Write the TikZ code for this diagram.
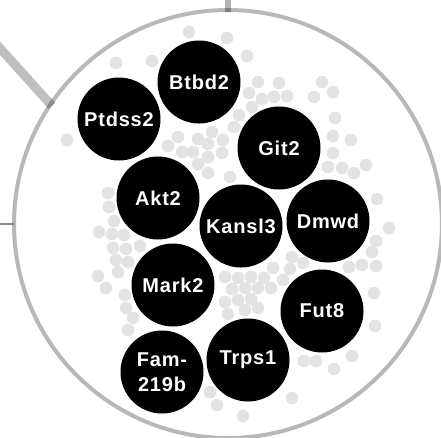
\documentclass[tikz,border=0pt]{standalone}
\usepackage{fontspec}
\newfontfamily\genefont[LetterSpace=4]{Liberation Sans}

\begin{document}
\begin{tikzpicture}[x=1pt,y=-1pt,
 gene/.style={circle,fill=black,inner sep=0pt,minimum size=83pt,text=white,
  align=center,font=\genefont\bfseries\fontsize{20}{25}\selectfont},
 spot/.style={fill=black!11},
 rim/.style={draw=black,draw opacity=0.28,line width=4pt}]
 \useasboundingbox (0,0) rectangle (441,437);
 \node[rim,circle,inner sep=0pt,outer sep=0pt,minimum size=428pt] (cell) at (228,224) {};
 \coordinate (topend) at (228,-5);
 \coordinate (leftend) at (-5,224);
 \coordinate (slantend) at (-20,26);
 \draw[line width=9pt,draw opacity=0.25,shorten >=-2pt] (slantend) -- (cell.146);
 \draw[line width=6.5pt,draw opacity=0.3,shorten >=-2pt] (topend) -- (cell.north);
 \draw[line width=2pt,black!45] (leftend) -- (cell.west);
 \foreach \x/\y in {
  189/32,227/38,247/56,116/63,152/61,67/140,
  258/82,279/83,249/93,262/99,274/97,287/96,252/107,239/115,234/127,
  212/132,223/140,198/139,208/144,178/137,168/146,182/152,193/152,
  208/157,222/153,198/164,208/173,230/177,
  322/82,333/92,314/97,335/118,333/136,351/140,333/153,328/167,342/168,
  354/173,366/165,377/199,389/228,376/241,372/252,376/266,362/265,
  349/267,374/293,375/326,
  108/193,109/207,114/221,99/232,112/234,124/235,113/248,126/249,
  140/246,116/260,128/262,118/272,98/276,106/288,125/295,126/308,
  133/318,128/330,
  292/257,303/263,273/268,290/269,225/277,238/278,251/277,264/278,
  283/280,232/289,245/288,258/288,271/288,225/302,238/300,251/299,
  228/314,245/310,258/308,
  304/361,316/361,334/369,352/356,210/392,217/405,243/416,292/398}
  \fill[spot] (\x,\y) circle[radius=6.3pt];
 \node[gene] (btbd2) at (199,82) {Btbd2};
 \node[gene] (ptdss2) at (119,119) {Ptdss2};
 \node[gene] (git2) at (279,148) {Git2};
 \node[gene] (akt2) at (158,198) {Akt2};
 \node[gene] (kansl3) at (241,226) {Kansl3};
 \node[gene] (dmwd) at (328,221) {Dmwd};
 \node[gene] (mark2) at (173,285) {Mark2};
 \node[gene] (fut8) at (322,311) {Fut8};
 \node[gene] (trps1) at (248,360) {Trps1};
 \node[gene] (fam219b) at (162,372) {Fam-\\219b};
\end{tikzpicture}
\end{document}
